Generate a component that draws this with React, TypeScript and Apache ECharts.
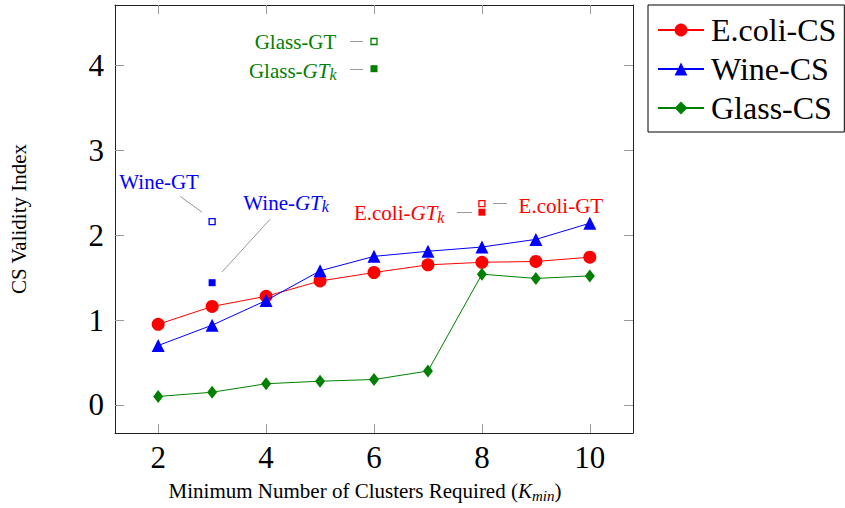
import React, { useEffect, useRef } from "react";
import * as echarts from "echarts";

const ks = [2, 3, 4, 5, 6, 7, 8, 9, 10];
const ecoliCS = [0.95, 1.16, 1.28, 1.46, 1.56, 1.65, 1.68, 1.69, 1.74];
const wineCS = [0.7, 0.94, 1.23, 1.58, 1.75, 1.81, 1.86, 1.95, 2.14];
const glassCS = [0.1, 0.15, 0.25, 0.28, 0.3, 0.4, 1.54, 1.49, 1.52];

const gtNames = ["Glass-GT", "Glass-GT_k", "Wine-GT", "Wine-GT_k", "E.coli-GT_k", "E.coli-GT"];
const gtK = [6, 6, 3, 3, 8, 8];
const gtValues = [4.28, 3.96, 2.16, 1.44, 2.27, 2.37];
const gtFilled = [false, true, false, true, true, false];

const xTicks = [2, 4, 6, 8, 10];
const yTicks = [0, 1, 2, 3, 4];

const RED = "#ff0000";
const BLUE = "#0000ff";
const GREEN = "#008000";
const FONT = "'Liberation Serif', 'DejaVu Serif', serif";

const gtColor = (name: string) =>
  name.startsWith("Glass") ? GREEN : name.startsWith("Wine") ? BLUE : RED;

const labelText = (name: string) => {
  if (name.endsWith("_k")) {
    const base = name.slice(0, -4);
    return `{m|${base}}{i|GT}{s|k}`;
  }
  return `{m|${name}}`;
};

const richFor = (color: string) => ({
  m: { fontFamily: FONT, fontSize: 21, color, lineHeight: 24, verticalAlign: "middle" },
  i: { fontFamily: FONT, fontSize: 21, fontStyle: "italic", color, lineHeight: 24, verticalAlign: "middle" },
  s: { fontFamily: FONT, fontSize: 16, fontStyle: "italic", color, lineHeight: 12, verticalAlign: "bottom" },
});

const labelPlacement: Record<string, any> = {
  "Glass-GT": { position: "left", distance: 34 },
  "Glass-GT_k": { position: "left", distance: 34, offset: [0, 2] },
  "Wine-GT": { position: "inside", offset: [-53, -40] },
  "Wine-GT_k": { position: "inside", offset: [74, -80] },
  "E.coli-GT_k": { position: "left", distance: 34, offset: [0, 1] },
  "E.coli-GT": { position: "right", distance: 33, offset: [0, 2] },
};

// leader lines in data coordinates
const leaderLines: number[][][] = [
  [[5.556, 4.281], [5.796, 4.281]],
  [[5.556, 3.953], [5.796, 3.953]],
  [[2.407, 2.456], [2.815, 2.269]],
  [[4.074, 2.187], [3.185, 1.567]],
  [[7.537, 2.27], [7.815, 2.27]],
  [[8.204, 2.37], [8.463, 2.37]],
];

export default function App() {
  const ref = useRef<HTMLDivElement>(null);
  useEffect(() => {
    if (!ref.current) return;
    const chart = echarts.init(ref.current, undefined, { renderer: "svg" });
    const axisLine = { show: true, onZero: false, lineStyle: { color: "#222", width: 1 } };
    const tickStyle = { color: "#9a9a9a", width: 1 };
    const option: any = {
      animation: false,
      backgroundColor: "#ffffff",
      textStyle: { fontFamily: FONT },
      grid: { left: 115, right: 212, top: 5, bottom: 72, containLabel: false },
      legend: {
        data: ["E.coli-CS", "Wine-CS", "Glass-CS"],
        orient: "vertical",
        left: 648,
        top: 5,
        padding: [9, 8, 8, 9],
        itemWidth: 46,
        itemHeight: 16,
        itemGap: 7,
        borderColor: "#000",
        borderWidth: 1,
        textStyle: { fontFamily: FONT, fontSize: 32, color: "#000", lineHeight: 30, padding: [0, 0, 0, 2] },
      },
      xAxis: [
        {
          type: "value",
          min: 1.2,
          max: 10.8,
          position: "bottom",
          name: "Minimum Number of Clusters Required ({i|K}{s|min})",
          nameLocation: "middle",
          nameGap: 46,
          nameTextStyle: {
            fontFamily: FONT,
            fontSize: 21,
            color: "#000",
            lineHeight: 24,
            padding: [0, 18, 0, 0],
            rich: {
              i: { fontFamily: FONT, fontSize: 21, fontStyle: "italic", color: "#000", lineHeight: 24, verticalAlign: "middle" },
              s: { fontFamily: FONT, fontSize: 15, fontStyle: "italic", color: "#000", lineHeight: 13, verticalAlign: "bottom" },
            },
          },
          axisLine,
          axisTick: { show: true, inside: true, length: 9, lineStyle: tickStyle, customValues: xTicks },
          axisLabel: { show: true, fontFamily: FONT, fontSize: 31, color: "#000", margin: 9, customValues: xTicks },
          splitLine: { show: false },
        },
        {
          type: "value",
          min: 1.2,
          max: 10.8,
          position: "top",
          axisLine,
          axisTick: { show: true, inside: true, length: 9, lineStyle: tickStyle, customValues: xTicks },
          axisLabel: { show: false },
          splitLine: { show: false },
        },
      ],
      yAxis: [
        {
          type: "value",
          min: -0.33,
          max: 4.71,
          position: "left",
          name: "CS Validity Index",
          nameLocation: "middle",
          nameGap: 86,
          nameTextStyle: { fontFamily: FONT, fontSize: 21, color: "#000" },
          axisLine,
          axisTick: { show: true, inside: true, length: 9, lineStyle: tickStyle, customValues: yTicks },
          axisLabel: { show: true, fontFamily: FONT, fontSize: 31, color: "#000", margin: 11, customValues: yTicks },
          splitLine: { show: false },
        },
        {
          type: "value",
          min: -0.33,
          max: 4.71,
          position: "right",
          axisLine,
          axisTick: { show: true, inside: true, length: 9, lineStyle: tickStyle, customValues: yTicks },
          axisLabel: { show: false },
          splitLine: { show: false },
        },
      ],
      series: [
        {
          name: "E.coli-CS",
          type: "line",
          data: ks.map((k, i) => [k, ecoliCS[i]]),
          symbol: "circle",
          symbolSize: 13,
          lineStyle: { color: RED, width: 1 },
          itemStyle: { color: RED },
          z: 3,
        },
        {
          name: "Wine-CS",
          type: "line",
          data: ks.map((k, i) => [k, wineCS[i]]),
          symbol: "triangle",
          symbolSize: 13,
          lineStyle: { color: BLUE, width: 1 },
          itemStyle: { color: BLUE },
          z: 4,
        },
        {
          name: "Glass-CS",
          type: "line",
          data: ks.map((k, i) => [k, glassCS[i]]),
          symbol: "diamond",
          symbolSize: [10, 13],
          lineStyle: { color: GREEN, width: 1 },
          itemStyle: { color: GREEN },
          z: 3,
        },
        {
          name: "GT",
          type: "scatter",
          symbol: "rect",
          symbolSize: 7,
          z: 5,
          itemStyle: { opacity: 1 },
          data: gtNames.map((n, i) => {
            const c = gtColor(n);
            return {
              name: n,
              value: [gtK[i], gtValues[i]],
              itemStyle: gtFilled[i]
                ? { color: c, borderColor: c, borderWidth: 0, opacity: 1 }
                : { color: "#ffffff", borderColor: c, borderWidth: 1.3, opacity: 1 },
              symbolSize: gtFilled[i] ? 7 : 6,
              label: {
                show: true,
                formatter: labelText(n),
                rich: richFor(c),
                ...labelPlacement[n],
              },
            };
          }),
          markLine: {
            silent: true,
            symbol: ["none", "none"],
            label: { show: false },
            lineStyle: { color: "#999999", width: 1, type: "solid" },
            data: leaderLines.map((l) => [{ coord: l[0] }, { coord: l[1] }]),
          },
        },
      ],
    };
    chart.setOption(option);
    return () => chart.dispose();
  }, []);
  return (
    <div
      ref={ref}
      style={{ position: "fixed", left: 0, top: 0, width: 845, height: 508, background: "#fff" }}
    />
  );
}
